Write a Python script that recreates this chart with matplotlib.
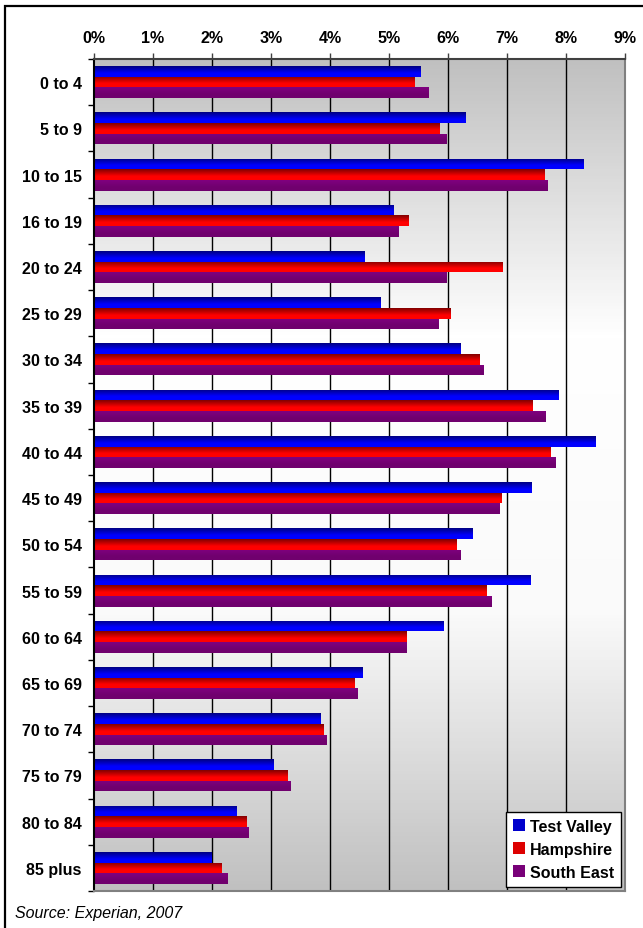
import numpy as np
import matplotlib
matplotlib.use('Agg')
import matplotlib.pyplot as plt
from matplotlib.colors import LinearSegmentedColormap, to_rgb
from matplotlib.patches import Rectangle

plt.rcParams['font.family'] = ['Liberation Sans', 'DejaVu Sans']

ages = ['0 to 4', '5 to 9', '10 to 15', '16 to 19', '20 to 24', '25 to 29',
        '30 to 34', '35 to 39', '40 to 44', '45 to 49', '50 to 54', '55 to 59',
        '60 to 64', '65 to 69', '70 to 74', '75 to 79', '80 to 84', '85 plus']
test_valley = [5.54, 6.30, 8.29, 5.08, 4.59, 4.86, 6.22, 7.88, 8.50, 7.41,
               6.42, 7.39, 5.93, 4.55, 3.84, 3.04, 2.42, 2.00]
hampshire = [5.44, 5.86, 7.63, 5.33, 6.93, 6.05, 6.54, 7.44, 7.73, 6.90,
             6.15, 6.66, 5.29, 4.42, 3.89, 3.28, 2.58, 2.16]
south_east = [5.67, 5.98, 7.69, 5.16, 5.98, 5.84, 6.61, 7.66, 7.82, 6.88,
              6.22, 6.73, 5.30, 4.47, 3.94, 3.33, 2.62, 2.26]
series = ['Test Valley', 'Hampshire', 'South East']
pct_ticks = list(range(0, 10))

# top colour -> bottom colour for each series
shades = [('#000080', '#0000ff'), ('#800000', '#ff0000'), ('#800080', '#70006e')]


def vgrad(c_top, c_bot, n=64, knee=0.65):
    t = np.clip(np.linspace(0, 1, n) / knee, 0, 1)
    a, b = np.array(to_rgb(c_top)), np.array(to_rgb(c_bot))
    return (a[None, :] * (1 - t[:, None]) + b[None, :] * t[:, None])[:, None, :]


fig = plt.figure(figsize=(6.43, 9.29), dpi=100)
ax = fig.add_axes([94 / 643, 1 - 892 / 929, (625 - 94) / 643, (892 - 60) / 929])

# grey-white-grey backdrop of the plot area
bg = LinearSegmentedColormap.from_list('bg', ['#c0c0c0', '#ffffff', '#fafafa', '#c0c0c0'])
ax.imshow(bg(np.linspace(0, 1, 256))[:, None, :], extent=[0, 1, 0, 1],
          transform=ax.transAxes, aspect='auto', zorder=0)

y = np.arange(len(ages))
h = 0.23
for k, (vals, (ct, cb)) in enumerate(zip([test_valley, hampshire, south_east], shades)):
    bars = ax.barh(y + (k - 1) * h, vals, height=h, color=cb, zorder=3, linewidth=0)
    img = vgrad(ct, cb)
    for b in bars:
        x0, y0, w, hh = b.get_x(), b.get_y(), b.get_width(), b.get_height()
        im = ax.imshow(img, extent=[x0, x0 + w, y0 + hh, y0], aspect='auto',
                       origin='upper', zorder=4, interpolation='bilinear')
        im.set_clip_path(b)

ax.set_xlim(0, 9)
ax.set_ylim(len(ages) - 0.5, -0.5)
ax.set_aspect('auto')

for v in pct_ticks[1:-1]:
    ax.axvline(v, color='black', lw=1.0, zorder=2)

ax.xaxis.tick_top()
ax.set_xticks(pct_ticks)
ax.set_xticklabels([f'{v}%' for v in pct_ticks], fontsize=11.5, fontweight='bold')
ax.tick_params(axis='x', direction='out', length=4, width=1, pad=6, color='#404040')

ax.set_yticks(y)
ax.set_yticklabels(ages, fontsize=11.5, fontweight='bold')
ax.set_yticks(np.arange(-0.5, len(ages), 1), minor=True)
ax.tick_params(axis='y', which='major', length=0, pad=9)
ax.tick_params(axis='y', which='minor', direction='out', length=4, width=1)

ax.spines['left'].set_color('black')
ax.spines['top'].set_color('#404040')
ax.spines['right'].set_color('#808080')
ax.spines['bottom'].set_color('#808080')
for s in ax.spines.values():
    s.set_linewidth(1.5)
    s.set_zorder(5)

handles = [Rectangle((0, 0), 1, 1, facecolor=c, edgecolor='none')
           for c in ['#0000cc', '#dd0000', '#780078']]
leg = ax.legend(handles, series, loc='lower right', borderaxespad=0.25,
                prop={'size': 11.5, 'weight': 'bold'}, handlelength=0.75,
                handleheight=0.75, handletextpad=0.3, labelspacing=0.5,
                fancybox=False, framealpha=1, edgecolor='black', borderpad=0.45)
leg.get_frame().set_linewidth(1.0)
leg.set_zorder(6)

fig.text(15 / 643, 1 - 914 / 929, 'Source: Experian, 2007', fontsize=11.5,
         style='italic', va='center', ha='left')

# outer frame (continues past the right and bottom edges)
fig.patches.append(Rectangle((4.5 / 643, -0.1), 1.2, 1 - 7 / 929 + 0.1,
                             transform=fig.transFigure, fill=False,
                             edgecolor='black', linewidth=1.6))

fig.savefig('out.png', dpi=100)
